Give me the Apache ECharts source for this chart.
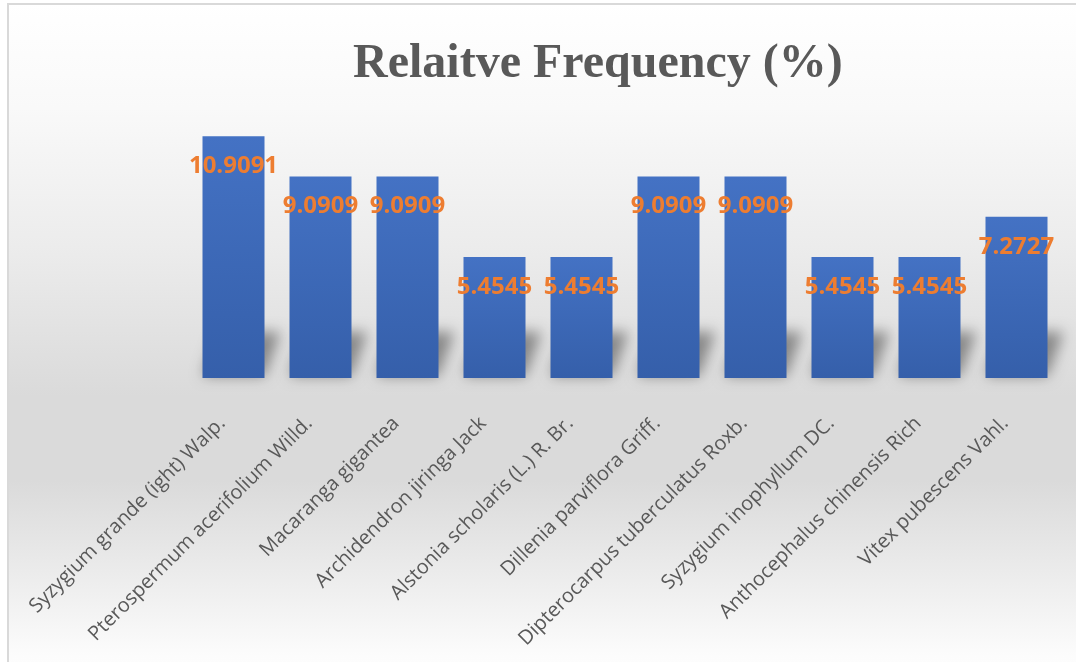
<!DOCTYPE html>
<html>
<head>
<meta charset="utf-8">
<title>Relaitve Frequency (%)</title>
<script src="https://cdn.jsdelivr.net/npm/echarts@6/dist/echarts.min.js"></script>
<style>
  html, body { margin: 0; padding: 0; background: #fff; }
  #chart { width: 1076px; height: 662px; }
</style>
</head>
<body>
<div id="chart"></div>
<script>
// species names (x axis)
var species = [
    'Syzygium grande (ight) Walp.',
    'Pterospermum acerifolium Willd.',
    'Macaranga gigantea',
    'Archidendron jiringa Jack',
    'Alstonia scholaris (L.) R. Br.',
    'Dillenia parviflora Griff.',
    'Dipterocarpus tuberculatus Roxb.',
    'Syzygium inophyllum DC.',
    'Anthocephalus chinensis Rich',
    'Vitex pubescens Vahl.'
];
// relative frequency values
var relFreq = [10.9091, 9.0909, 9.0909, 5.4545, 5.4545, 9.0909, 9.0909, 5.4545, 5.4545, 7.2727];

var chart = echarts.init(document.getElementById('chart'));

var option = {
    backgroundColor: '#ffffff',
    animation: false,
    title: {
        text: 'Relaitve Frequency (%)',
        left: 348,
        top: 36,
        textStyle: {
            fontFamily: 'Liberation Serif',
            fontWeight: 'bold',
            fontSize: 48,
            color: '#595959'
        }
    },
    graphic: [{
        type: 'rect',
        z: -10,
        shape: { x: 8, y: 4, width: 1100, height: 700 },
        style: {
            fill: new echarts.graphic.LinearGradient(0, 0, 0, 1, [
                { offset: 0, color: '#ffffff' },
                { offset: 0.15, color: '#f9f9f9' },
                { offset: 0.36, color: '#ebebeb' },
                { offset: 0.56, color: '#dadada' },
                { offset: 0.68, color: '#dadada' },
                { offset: 0.83, color: '#eeeeee' },
                { offset: 0.93, color: '#fcfcfc' },
                { offset: 1, color: '#ffffff' }
            ]),
            stroke: '#d9d9d9',
            lineWidth: 2
        }
    }],
    grid: {
        left: 190,
        right: 16,
        top: 112,
        bottom: 284
    },
    xAxis: {
        type: 'category',
        data: species,
        axisLine: { show: false },
        axisTick: { show: false },
        axisLabel: {
            rotate: 45,
            interval: 0,
            margin: 31,
            padding: [0, 16, 10, 0],
            color: '#595959',
            fontFamily: 'Open Sans',
            fontSize: 20
        }
    },
    yAxis: {
        type: 'value',
        min: 0,
        max: 12,
        show: false,
        splitLine: { show: false }
    },
    series: [{
        // blurred floor shadow behind each bar (shape kept off-canvas, only its shadow shows)
        type: 'custom',
        z: 1,
        silent: true,
        data: relFreq.map(function (v, i) { return [i, v]; }),
        renderItem: function (params, api) {
            var base = api.coord([api.value(0), 0]);
            var hw = 31, dx = 16, h = 44, off = 3000;
            var x = base[0] - off, y = base[1] - 2;
            return {
                type: 'polygon',
                shape: {
                    points: [
                        [x - hw, y],
                        [x + hw, y],
                        [x + hw + dx, y - h],
                        [x - hw + dx, y - h]
                    ]
                },
                style: {
                    fill: '#000',
                    shadowBlur: 14,
                    shadowOffsetX: off,
                    shadowColor: 'rgba(0,0,0,0.4)'
                }
            };
        }
    }, {
        type: 'bar',
        z: 2,
        data: relFreq,
        barWidth: 62,
        itemStyle: {
            color: new echarts.graphic.LinearGradient(0, 0, 0, 1, [
                { offset: 0, color: '#4472c4' },
                { offset: 1, color: '#355faa' }
            ])
        },
        label: {
            show: true,
            position: ['50%', 30],
            align: 'center',
            verticalAlign: 'middle',
            color: '#ed7d31',
            fontFamily: 'Open Sans',
            fontWeight: 'bold',
            fontSize: 24,
            formatter: function (p) { return p.value.toFixed(4); }
        }
    }]
};

chart.setOption(option);
</script>
</body>
</html>
